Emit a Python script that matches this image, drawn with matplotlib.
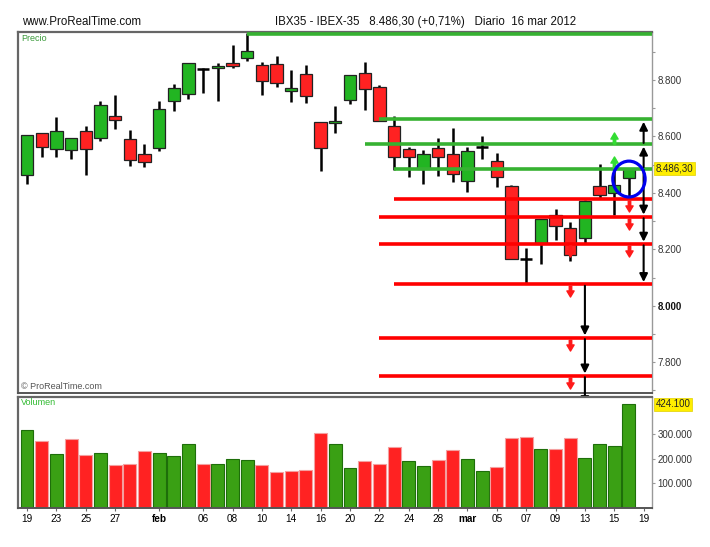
import matplotlib.pyplot as plt
from matplotlib.patches import Rectangle, Ellipse
from matplotlib.transforms import blended_transform_factory

plt.rcParams['font.family'] = ['Liberation Sans', 'DejaVu Sans']

# IBEX-35 daily candles, 19 jan - 16 mar 2012
opens = [8464, 8611, 8555, 8551, 8620, 8596, 8671, 8590, 8538, 8559,
         8726, 8750, 8838, 8844, 8861, 8879, 8852, 8858, 8762, 8822,
         8650, 8648, 8728, 8825, 8776, 8638, 8556, 8484, 8560, 8538,
         8442, 8564, 8514, 8426, 8165, 8224, 8322, 8275, 8241, 8426,
         8401, 8452]
highs = [8604, 8611, 8668, 8595, 8638, 8724, 8747, 8624, 8574, 8727,
         8785, 8860, 8842, 8859, 8923, 8965, 8863, 8886, 8834, 8853,
         8650, 8708, 8819, 8865, 8781, 8672, 8564, 8551, 8593, 8629,
         8564, 8602, 8540, 8428, 8204, 8307, 8342, 8296, 8375, 8501,
         8495, 8487]
lows = [8432, 8526, 8528, 8519, 8464, 8584, 8625, 8496, 8491, 8550,
        8689, 8733, 8753, 8726, 8842, 8868, 8746, 8774, 8722, 8719,
        8478, 8612, 8716, 8694, 8656, 8481, 8457, 8432, 8461, 8440,
        8402, 8519, 8421, 8165, 8080, 8147, 8233, 8159, 8224, 8380,
        8322, 8387]
closes = [8604, 8563, 8619, 8593, 8557, 8712, 8659, 8518, 8508, 8698,
          8773, 8860, 8838, 8850, 8850, 8903, 8798, 8788, 8773, 8743,
          8560, 8656, 8819, 8767, 8656, 8526, 8526, 8539, 8526, 8467,
          8547, 8564, 8455, 8165, 8165, 8307, 8284, 8180, 8372, 8392,
          8428, 8486]
volume = [320, 275, 219, 282, 215, 226, 174, 181, 233, 226,
          212, 260, 181, 181, 201, 197, 174, 146, 150, 154,
          306, 260, 163, 191, 181, 249, 193, 170, 197, 235,
          201, 151, 167, 287, 291, 242, 242, 284, 204, 262,
          253, 424.1]
vol_up = [1, 0, 1, 0, 0, 1, 0, 0, 0, 1,
          1, 1, 0, 1, 1, 1, 0, 0, 0, 0,
          0, 1, 1, 0, 0, 0, 1, 1, 0, 0,
          1, 1, 0, 0, 0, 1, 0, 0, 1, 1,
          1, 1]

tick_pos = [0, 2, 4, 6, 9, 12, 14, 16, 18, 20, 22, 24, 26, 28, 30, 32, 34, 36, 38, 40, 42]
tick_labels = ['19', '23', '25', '27', 'feb', '06', '08', '10', '14', '16', '20',
               '22', '24', '28', 'mar', '05', '07', '09', '13', '15', '19']

# support / resistance levels and the candle where each one starts
green_levels = [8963, 8660, 8572, 8486]
green_start = [15, 24, 23, 25]
red_levels = [8379, 8315, 8219, 8076, 7887, 7752]
red_start = [25, 24, 24, 25, 24, 24]

# annotation arrows: (candle, from, to)
black_arrows = [(42, 8486, 8572), (42, 8572, 8660),
                (42, 8486, 8315), (42, 8315, 8219), (42, 8219, 8076),
                (38, 8076, 7887), (38, 7887, 7752), (38, 7752, 7640)]
red_marks = [(41, 8379), (41, 8315), (41, 8219),
             (37, 8219), (37, 8076), (37, 7887), (37, 7752)]
green_marks = [(40, 8572), (40, 8486)]

W, H = 710, 547
fig = plt.figure(figsize=(W / 100, H / 100), dpi=100)
ax = fig.add_axes([18 / W, 1 - 393 / H, 634 / W, 361 / H])
axv = fig.add_axes([18 / W, 1 - 508 / H, 634 / W, 111 / H], sharex=ax)

fig.text(22 / W, 1 - 22 / H, 'www.ProRealTime.com', fontsize=8.3, va='center',
         color='#111111')
fig.text(275 / W, 1 - 22 / H,
         'IBX35 - IBEX-35   8.486,30 (+0,71%)   Diario  16 mar 2012',
         fontsize=8.3, va='center', color='#111111')

# candles
for i in range(len(opens)):
    o, h, l, c = opens[i], highs[i], lows[i], closes[i]
    ax.vlines(i, l, h, color='black', lw=1.8, zorder=2)
    if c == o:
        ax.hlines(c, i - 0.42, i + 0.42, color='black', lw=1.8, zorder=3)
    else:
        col = '#22b522' if c > o else '#ff2222'
        ax.add_patch(Rectangle((i - 0.42, min(o, c)), 0.84, abs(c - o),
                               facecolor=col, edgecolor='#222222', lw=0.9, zorder=3))

xmax = 42.57
for lv, st in zip(green_levels, green_start):
    ax.hlines(lv, st, xmax, color='#36b231', lw=2.6, zorder=4)
for lv, st in zip(red_levels, red_start):
    ax.hlines(lv, st, xmax, color='#ff0000', lw=2.6, zorder=4)

for xi, a, b in black_arrows:
    s = 1 if b > a else -1
    ax.annotate('', xy=(xi, b - s * 8), xytext=(xi, a + s * 5),
                arrowprops=dict(arrowstyle='-|>', color='black', lw=1.5,
                                mutation_scale=12, shrinkA=0, shrinkB=0),
                zorder=5, annotation_clip=False)

down = [(-0.22, 1), (0.22, 1), (0.22, 0.1), (0.65, 0.1), (0, -1), (-0.65, 0.1), (-0.22, 0.1), (-0.22, 1)]
up = [(x, -y) for x, y in down]
for xi, lv in red_marks:
    ax.plot(xi, lv - 25, marker=down, ms=8, color='#ff1a1a', mec='#ff1a1a', zorder=6)
for xi, lv in green_marks:
    ax.plot(xi, lv + 22, marker=up, ms=8, color='#33dd33', mec='#33dd33', zorder=6)

ax.add_patch(Ellipse((41, 8449), 2.2, 127, fill=False, edgecolor='#0000ee', lw=2.3, zorder=7))

ax.set_xlim(-0.613, xmax)
ax.set_ylim(7691, 8970)

ax.yaxis.tick_right()
ax.set_yticks([7800, 8000, 8200, 8400, 8600, 8800])
ax.set_yticklabels(['7.800', '8.000', '8.200', '8.400', '8.600', '8.800'])
ax.set_yticks([7700, 7900, 8100, 8300, 8500, 8700, 8900], minor=True)
ax.tick_params(axis='y', which='both', length=2.5, width=0.8, color='#999999',
               labelsize=7, labelcolor='#333333', pad=1.5)
ax.get_yticklabels()[1].set_fontweight('bold')
ax.get_yticklabels()[1].set_color('#111111')
ax.tick_params(axis='x', bottom=False, labelbottom=False)

tr = blended_transform_factory(ax.transAxes, ax.transData)
ax.text(1.006, 8486.3, '8.486,30', transform=tr, fontsize=7, va='center', ha='left',
        color='#222222', bbox=dict(boxstyle='square,pad=0.15', fc='#ffee00', ec='#e0d000', lw=0.5),
        zorder=8)

ax.text(0.005, 0.995, 'Precio', transform=ax.transAxes, fontsize=6.5, va='top',
        color='#3a9a3a')
ax.text(0.005, 0.005, '© ProRealTime.com', transform=ax.transAxes, fontsize=6.5,
        va='bottom', color='#555555')

# volume
vcol = ['#3aa014' if u else '#ff2222' for u in vol_up]
vedge = ['#1e6e0a' if u else '#f4a0a0' for u in vol_up]
axv.bar(range(len(volume)), [v * 1000 for v in volume], width=0.88,
        color=vcol, edgecolor=vedge, lw=0.8, zorder=2)
axv.set_ylim(0, 453000)
axv.yaxis.tick_right()
axv.set_yticks([100000, 200000, 300000])
axv.set_yticklabels(['100.000', '200.000', '300.000'])
axv.tick_params(axis='y', length=2.5, width=0.8, color='#999999',
                labelsize=7, labelcolor='#333333', pad=1.5)
trv = blended_transform_factory(axv.transAxes, axv.transData)
axv.text(1.006, 424100, '424.100', transform=trv, fontsize=7, va='center', ha='left',
         color='#222222', bbox=dict(boxstyle='square,pad=0.15', fc='#ffee00', ec='#e0d000', lw=0.5),
         zorder=8)
axv.text(0.005, 0.99, 'Volumen', transform=axv.transAxes, fontsize=6.5, va='top',
         color='#33bb33')

axv.set_xticks(tick_pos)
axv.set_xticklabels(tick_labels)
axv.tick_params(axis='x', length=2, width=0.8, color='#666666', labelsize=7.2, pad=2)
for lab in axv.get_xticklabels():
    if lab.get_text() in ('feb', 'mar'):
        lab.set_fontweight('bold')

for a in (ax, axv):
    a.spines['left'].set_color('#666666')
    a.spines['left'].set_linewidth(1.6)
    a.spines['top'].set_color('#666666')
    a.spines['top'].set_linewidth(1.6)
    a.spines['bottom'].set_color('#555555')
    a.spines['bottom'].set_linewidth(1.4)
    a.spines['right'].set_color('#999999')
    a.spines['right'].set_linewidth(1.0)

fig.savefig('out.png', dpi=100)
